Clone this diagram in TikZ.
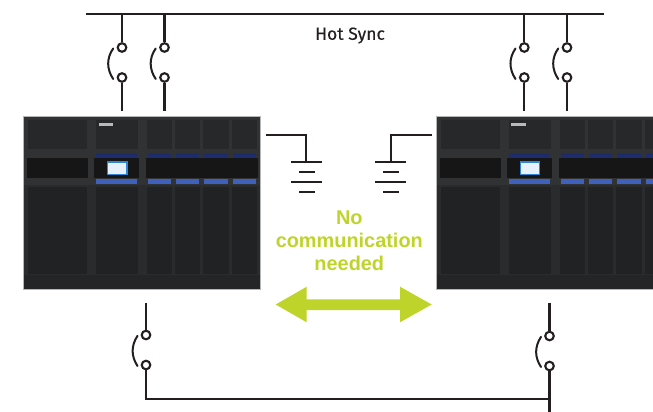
\documentclass[tikz,border=0pt]{standalone}
\usepackage{fontspec}
\setmainfont{Liberation Sans}
\newfontfamily\hotfont[FakeBold=0.35]{Fira Sans}
\definecolor{wire}{HTML}{231F20}
\definecolor{lime}{HTML}{BFD42A}
\definecolor{cabbase}{HTML}{303233}
\definecolor{cablowbase}{HTML}{292B2C}
\definecolor{cabedge}{HTML}{B5B7B7}
\definecolor{cabpanel}{HTML}{26282A}
\definecolor{cablow}{HTML}{212223}
\definecolor{cabfoot}{HTML}{232526}
\definecolor{cabband}{HTML}{161616}
\definecolor{bluehi}{HTML}{3F61BC}
\definecolor{bluelo}{HTML}{1F2C6C}
\definecolor{screenc}{HTML}{E6F1FC}
\definecolor{screenb}{HTML}{2F86D8}
\tikzset{
  x=1pt,y=-1pt,
  wireline/.style={draw=wire,line width=2.2pt},
  thinwire/.style={draw=wire,line width=1.7pt},
  contact/.style={circle,draw=wire,line width=2.1pt,fill=white,minimum size=8.6pt,inner sep=0pt},
  swingarc/.style={draw=wire,line width=2pt,line cap=round},
  greenlabel/.style={text=lime,font=\bfseries\fontsize{19.9}{23}\selectfont,align=center},
  hotlabel/.style={text=wire,font=\hotfont\fontsize{17.5}{20}\selectfont},
}
\newcommand{\cabinetdraw}[1]{%
\begin{scope}[xshift=#1]
  \fill[cabbase] (23.5,116) rectangle (260.3,289);
  \fill[cablowbase] (23.5,185) rectangle (260.3,289);
  \draw[cabedge,line width=.6pt] (23.5,289) -- (23.5,116) -- (260.3,116) -- (260.3,289) -- cycle;
  \foreach \a/\b in {28/87,96/138,147/172,175/200,203/229,232/257}{
    \fill[cabpanel] (\a,119.5) rectangle (\b,149);
    \fill[cablow] (\a,187) rectangle (\b,274);
  }
  \fill[cabfoot] (24,275) rectangle (260,288.6);
  \fill[cabband] (27,158) rectangle (88,178);
  \fill[cabband] (94,158) rectangle (139,178);
  \fill[cabband] (146,158) rectangle (258,178);
  \foreach \a/\b in {96/137,148/171,176/199,204/228,233/256}{
    \fill[bluelo] (\a,153) rectangle (\b,157.5);
    \fill[bluehi] (\a,179) rectangle (\b,184);
  }
  \fill[screenb] (107,161) rectangle (127.5,175);
  \fill[screenc] (108.2,162.5) rectangle (126.3,173.8);
  \fill[gray!55] (98.5,122.5) rectangle (113,125.5);
\end{scope}}
\begin{document}
\begin{tikzpicture}
\useasboundingbox (0,0) rectangle (653,412);
\begin{scope}
\clip (0,0) rectangle (653,412);
\cabinetdraw{0pt}
\cabinetdraw{412.5pt}
\end{scope}
% top bus
\coordinate (busL) at (86,14);
\coordinate (busR) at (604,14);
\draw[draw=wire,line width=2.5pt] (busL) -- (busR);
% top switches
\foreach \n/\x in {a/122,b/164.5,c/524.3,d/567}{
  \coordinate (t\n) at (\x,14);
  \coordinate (e\n) at (\x,111);
  \node[contact] (u\n) at (\x,47.5) {};
  \node[contact] (l\n) at (\x,77.5) {};
  \draw[wireline] (t\n) -- (u\n);
  \draw[wireline] (l\n) -- (e\n);
  \draw[swingarc] (\x-8.8,48.5) .. controls (\x-15.5,58) and (\x-15.5,69) .. (\x-8.8,79);
}
% bottom switches
\foreach \n/\x/\ya/\yb in {e/146/335/365,f/549.5/336/366}{
  \coordinate (t\n) at (\x,302.5);
  \node[contact] (u\n) at (\x,\ya) {};
  \node[contact] (l\n) at (\x,\yb) {};
  \draw[wireline] (t\n) -- (u\n);
  \draw[swingarc] (\x-8.5,\ya+.8) .. controls (\x-15,\ya+11) and (\x-15,\ya+21) .. (\x-8.5,\ya+31);
}
\coordinate (botend) at (549.5,412);
\coordinate (botcorner) at (146,399);
\coordinate (botjoin) at (549.5,399);
\draw[wireline] (le) -- (botcorner) -- (botjoin);
\draw[wireline] (lf) -- (botend);
% grounds
\coordinate (g1s) at (266,135);
\coordinate (g1c) at (306,135);
\coordinate (g1t) at (306,162);
\draw[thinwire] (g1s) -- (g1c) -- (g1t);
\draw[thinwire] (291,162) -- (322,162);
\draw[thinwire] (299,171.7) -- (315,171.7);
\draw[thinwire] (291,182) -- (322,182);
\draw[thinwire] (299,192) -- (315,192);
\coordinate (g2s) at (432,135);
\coordinate (g2c) at (391,135);
\coordinate (g2t) at (391,162);
\draw[thinwire] (g2s) -- (g2c) -- (g2t);
\draw[thinwire] (375,162) -- (406,162);
\draw[thinwire] (383,171.7) -- (399,171.7);
\draw[thinwire] (375,182) -- (406,182);
\draw[thinwire] (383,192) -- (399,192);
% arrow
\fill[lime] (275.7,304.5) -- (306.7,286.7) -- (306.7,299.3) -- (400,299.3) -- (400,286.7)
  -- (431.7,304.5) -- (400,322.3) -- (400,310) -- (306.7,310) -- (306.7,322.3) -- cycle;
% labels
\node[hotlabel] (hot) at (350,35.5) {Hot Sync};
\node[greenlabel] (msg) at (349.3,241) {No\\communication\\needed};
\end{tikzpicture}
\end{document}
